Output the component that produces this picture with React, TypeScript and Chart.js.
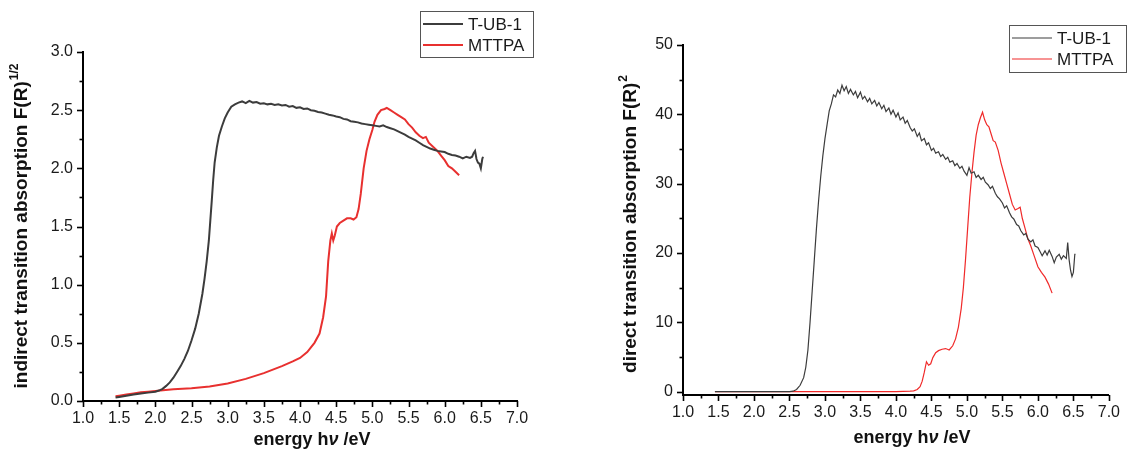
import React, { useEffect, useRef } from 'react';
import { Chart, registerables } from 'chart.js';

Chart.register(...registerables);

const FONT = "'Liberation Sans', Arial, Helvetica, sans-serif";

// ---------- tick labels ----------
const energyTicks = [1.0, 1.5, 2.0, 2.5, 3.0, 3.5, 4.0, 4.5, 5.0, 5.5, 6.0, 6.5, 7.0];
const indirectTicks = [0.0, 0.5, 1.0, 1.5, 2.0, 2.5, 3.0];
const directTicks = [0, 10, 20, 30, 40, 50];

const seriesNames = ['T-UB-1', 'MTTPA'];

// ---------- left panel: indirect transition, F(R)^1/2 ----------
const indirectTubE = [
  1.45, 1.5, 1.6, 1.7, 1.8, 1.9, 2.0, 2.05, 2.1, 2.15, 2.2, 2.25, 2.3, 2.35, 2.4, 2.45, 2.5, 2.55, 2.6, 2.65,
  2.68, 2.71, 2.74, 2.76, 2.78, 2.8, 2.82, 2.85, 2.88, 2.92, 2.96, 3.0, 3.05, 3.1, 3.15, 3.2, 3.25, 3.3, 3.35,
  3.4, 3.45, 3.5, 3.55, 3.6, 3.65, 3.7, 3.75, 3.8, 3.85, 3.9, 3.95, 4.0, 4.05, 4.1, 4.15, 4.2, 4.25, 4.3, 4.35,
  4.4, 4.45, 4.5, 4.55, 4.6, 4.65, 4.7, 4.75, 4.8, 4.85, 4.9, 4.95, 5.0, 5.05, 5.1, 5.15, 5.2, 5.25, 5.3, 5.35,
  5.4, 5.45, 5.5, 5.55, 5.6, 5.65, 5.7, 5.75, 5.8, 5.85, 5.9, 5.95, 6.0, 6.05, 6.1, 6.15, 6.2, 6.25, 6.3, 6.35,
  6.38, 6.4, 6.42, 6.44, 6.46, 6.48, 6.5, 6.52, 6.53,
];
const indirectTubV = [
  0.03, 0.035, 0.045, 0.055, 0.065, 0.072, 0.08, 0.09, 0.105, 0.13, 0.16, 0.2, 0.25, 0.3, 0.36, 0.43, 0.52, 0.62, 0.75, 0.92,
  1.05, 1.2, 1.38, 1.55, 1.72, 1.9, 2.05, 2.18, 2.28, 2.36, 2.43, 2.48, 2.53, 2.55, 2.565, 2.575, 2.56, 2.58, 2.565,
  2.57, 2.555, 2.56, 2.55, 2.555, 2.545, 2.55, 2.54, 2.545, 2.53, 2.535, 2.52, 2.525, 2.51, 2.515, 2.5, 2.495, 2.485, 2.48, 2.47,
  2.46, 2.455, 2.445, 2.44, 2.425, 2.42, 2.405, 2.4, 2.395, 2.385, 2.38, 2.375, 2.37, 2.365, 2.36, 2.37, 2.355, 2.345, 2.335, 2.32,
  2.305, 2.29, 2.27, 2.255, 2.24, 2.22, 2.2, 2.185, 2.17, 2.16, 2.15, 2.145, 2.14, 2.125, 2.115, 2.11, 2.1, 2.085, 2.1, 2.09,
  2.1, 2.13, 2.15, 2.08, 2.05, 2.04, 2.0, 2.08, 2.1,
];
const indirectMttpaE = [
  1.45, 1.5, 1.6, 1.7, 1.8, 1.9, 2.0, 2.25, 2.5, 2.75, 3.0, 3.25, 3.5, 3.75, 3.9, 4.0, 4.1, 4.2, 4.27, 4.32,
  4.36, 4.39, 4.42, 4.44, 4.46, 4.48, 4.51, 4.55, 4.6, 4.65, 4.7, 4.74, 4.78, 4.81, 4.84, 4.88, 4.92, 4.96, 5.0, 5.03,
  5.07, 5.12, 5.17, 5.2, 5.25, 5.3, 5.35, 5.4, 5.45, 5.5, 5.55, 5.6, 5.65, 5.7, 5.74, 5.78, 5.85, 5.9, 5.95, 6.0,
  6.05, 6.1, 6.15, 6.2,
];
const indirectMttpaV = [
  0.04, 0.045, 0.055, 0.065, 0.075, 0.08, 0.085, 0.1, 0.11, 0.125, 0.15, 0.19, 0.24, 0.3, 0.34, 0.37, 0.42, 0.5, 0.58, 0.72,
  0.9, 1.2, 1.38, 1.44, 1.38, 1.42, 1.5, 1.53, 1.55, 1.57, 1.57, 1.56, 1.58, 1.65, 1.78, 2.0, 2.15, 2.25, 2.33, 2.4,
  2.46, 2.5, 2.51, 2.52, 2.5, 2.48, 2.46, 2.44, 2.42, 2.38, 2.35, 2.31, 2.28, 2.26, 2.27, 2.22, 2.18, 2.15, 2.11, 2.07,
  2.02, 2.0, 1.97, 1.94,
];

// ---------- right panel: direct transition, F(R)^2 ----------
const directTubE = [
  1.45, 2.0, 2.5, 2.55, 2.6, 2.65, 2.7, 2.73, 2.76, 2.79, 2.82, 2.85, 2.88, 2.91, 2.94, 2.97, 3.0, 3.03, 3.06, 3.09,
  3.12, 3.15, 3.18, 3.21, 3.24, 3.27, 3.3, 3.33, 3.36, 3.4, 3.43, 3.46, 3.5, 3.53, 3.56, 3.6, 3.63, 3.66, 3.7, 3.73,
  3.76, 3.8, 3.83, 3.86, 3.9, 3.93, 3.96, 4.0, 4.03, 4.06, 4.1, 4.13, 4.16, 4.2, 4.23, 4.26, 4.3, 4.33, 4.36, 4.4,
  4.43, 4.46, 4.5, 4.53, 4.56, 4.6, 4.63, 4.66, 4.7, 4.73, 4.76, 4.8, 4.83, 4.86, 4.9, 4.93, 4.96, 5.0, 5.03, 5.06,
  5.1, 5.13, 5.16, 5.2, 5.23, 5.26, 5.3, 5.33, 5.36, 5.4, 5.43, 5.46, 5.5, 5.53, 5.56, 5.6, 5.63, 5.66, 5.7, 5.73,
  5.76, 5.8, 5.83, 5.86, 5.9, 5.93, 5.96, 6.0, 6.03, 6.06, 6.1, 6.13, 6.16, 6.2, 6.23, 6.26, 6.3, 6.33, 6.36, 6.4,
  6.42, 6.44, 6.46, 6.48, 6.5, 6.52, 6.53,
];
const directTubV = [
  0, 0, 0, 0.05, 0.3, 0.9, 2.0, 3.5, 6, 10, 14.5, 19, 23.5, 27.5, 31, 34, 36.5, 38.5, 40.5, 41.5,
  42.8, 42.5, 43.5, 43, 44.2, 43.4, 44, 43, 43.6, 42.8, 43.3, 42.4, 43.2, 42.2, 42.6, 41.8, 42.3, 41.5, 42, 41.2,
  41.7, 40.8, 41.3, 40.4, 40.9, 40, 40.6, 39.6, 40.2, 39.2, 39.6, 38.7, 39.1, 38.1, 37.6, 37.9, 36.8, 37.3, 36.2, 36.5,
  35.6, 35.9, 34.8, 35.1, 34.4, 34.6, 33.9, 34.2, 33.5, 33.8, 33.1, 33.3, 32.6, 32.9, 32.2, 32.5, 31.8, 31.2, 32.3, 31.5,
  31.7, 30.9, 31.2, 30.6, 30.9, 30.2, 29.8, 29.3, 29.6, 28.6, 28.1, 27.8, 27.2, 26.5, 26.8, 25.8, 25.2, 24.9, 24.1, 23.9,
  23.2, 22.6, 22.8, 22.0, 21.6, 21.9, 21.0, 20.8, 20.2, 19.6, 20.3, 19.7, 20.4, 19.5, 18.6, 19.4, 19.8, 19.1, 19.6, 19.2,
  21.5, 19, 17.5, 16.6, 17.2, 19.8, 19.8,
];
const directMttpaE = [
  1.45, 2.0, 3.0, 4.0, 4.2, 4.25, 4.3, 4.34, 4.37, 4.4, 4.43, 4.46, 4.49, 4.52, 4.56, 4.6, 4.65, 4.7, 4.75, 4.8,
  4.84, 4.88, 4.92, 4.95, 4.98, 5.01, 5.04, 5.07, 5.1, 5.13, 5.16, 5.19, 5.22, 5.25, 5.28, 5.31, 5.34, 5.37, 5.4, 5.44,
  5.48, 5.52, 5.56, 5.6, 5.64, 5.68, 5.72, 5.75, 5.78, 5.82, 5.86, 5.9, 5.95, 6.0, 6.05, 6.1, 6.15, 6.2,
];
const directMttpaV = [
  0, 0, 0, 0, 0.05, 0.1, 0.3, 0.7, 1.5, 2.8, 4.3, 3.8, 4.0, 4.9, 5.6, 5.9, 6.1, 6.2, 6.0, 6.6,
  7.6, 9.3, 12, 15, 19, 23.5, 28, 31.5, 34.5, 37, 38.5, 39.5, 40.3, 39.2, 38.5, 38.2, 37.2, 36.2, 36.0, 34.8,
  33.0, 31.5, 30, 28.5, 27, 26.2, 26.4, 26.6, 25, 23.5, 22, 21, 19.5, 18, 17.2, 16.5, 15.5, 14.2,
];

const toPoints = (xs: number[], ys: number[]) => xs.map((x, i) => ({ x, y: ys[i] }));

const axisDecor = {
  id: 'axisDecor',
  afterDraw(chart: any, _args: any, o: any) {
    const ctx = chart.ctx as CanvasRenderingContext2D;
    const xs = chart.scales.x;
    const ys = chart.scales.y;
    ctx.save();
    ctx.strokeStyle = '#000';
    ctx.lineWidth = 1.6;
    // x ticks (outward, below)
    const nx = Math.round((o.xEnd - o.xStart) / o.xMinor);
    for (let i = 0; i <= nx; i++) {
      const v = o.xStart + i * o.xMinor;
      const px = Math.round(xs.getPixelForValue(v)) + 0.5;
      const len = i % o.xRatio === 0 ? 6 : 3.5;
      ctx.beginPath();
      ctx.moveTo(px, xs.top);
      ctx.lineTo(px, xs.top + len);
      ctx.stroke();
    }
    const ny = Math.round((o.yEnd - o.yStart) / o.yMinor);
    for (let i = 0; i <= ny; i++) {
      const v = o.yStart + i * o.yMinor;
      const py = Math.round(ys.getPixelForValue(v)) + 0.5;
      const len = i % o.yRatio === 0 ? 6 : 3.5;
      ctx.beginPath();
      ctx.moveTo(ys.right, py);
      ctx.lineTo(ys.right - len, py);
      ctx.stroke();
    }
    // y title with superscript
    ctx.fillStyle = '#111';
    ctx.save();
    ctx.translate(o.yTitleX, o.yTitleY);
    ctx.rotate(-Math.PI / 2);
    ctx.textBaseline = 'middle';
    ctx.textAlign = 'left';
    const mainFont = `bold 19px ${FONT}`;
    const supFont = `bold 12px ${FONT}`;
    ctx.font = mainFont;
    const w1 = ctx.measureText(o.yTitle).width;
    ctx.font = supFont;
    const w2 = ctx.measureText(o.yTitleSup).width;
    const start = -(w1 + w2 + 1) / 2;
    ctx.font = mainFont;
    ctx.fillText(o.yTitle, start, 0);
    ctx.font = supFont;
    ctx.fillText(o.yTitleSup, start + w1 + 1, -7);
    ctx.restore();
    // x title
    ctx.textBaseline = 'middle';
    ctx.textAlign = 'left';
    const parts: [string, string][] = [
      ['energy h', `bold 18px ${FONT}`],
      ['\u03bd', `italic bold 18px ${FONT}`],
      [' /eV', `bold 18px ${FONT}`],
    ];
    let total = 0;
    parts.forEach(([t, f]) => { ctx.font = f; total += ctx.measureText(t).width; });
    let cx = o.xTitleX - total / 2;
    parts.forEach(([t, f]) => { ctx.font = f; ctx.fillText(t, cx, o.xTitleY); cx += ctx.measureText(t).width; });
    // legend box
    const L = o.legend;
    ctx.strokeStyle = '#555';
    ctx.lineWidth = 1;
    ctx.strokeRect(L.x + 0.5, L.y + 0.5, L.w, L.h);
    ctx.font = `${L.fontSize}px ${FONT}`;
    ctx.textBaseline = 'middle';
    chart.data.datasets.forEach((ds: any, i: number) => {
      const yy = L.y + L.rowStart + i * L.rowGap;
      ctx.strokeStyle = ds.borderColor;
      ctx.lineWidth = ds.borderWidth;
      ctx.beginPath();
      ctx.moveTo(L.x + 3, yy);
      ctx.lineTo(L.x + 3 + L.lineLen, yy);
      ctx.stroke();
      ctx.fillStyle = '#1a1a1a';
      ctx.fillText(ds.label, L.x + 3 + L.lineLen + 5, yy + 1);
    });
    ctx.restore();
  },
};

function buildConfig(p: any) {
  return {
    type: 'line',
    data: {
      datasets: [
        {
          label: seriesNames[0],
          data: toPoints(p.tubE, p.tubV),
          borderColor: p.grey,
          borderWidth: p.lw,
          pointRadius: 0,
          tension: 0,
        },
        {
          label: seriesNames[1],
          data: toPoints(p.mttpaE, p.mttpaV),
          borderColor: p.red,
          borderWidth: p.lw,
          pointRadius: 0,
          tension: 0,
        },
      ],
    },
    options: {
      animation: false,
      responsive: false,
      devicePixelRatio: 1,
      layout: { padding: { top: p.padTop, right: p.padRight, left: 0, bottom: 0 } },
      plugins: {
        legend: { display: false },
        tooltip: { enabled: false },
        axisDecor: p.decor,
      },
      scales: {
        x: {
          type: 'linear',
          min: 1,
          max: 7,
          afterBuildTicks: (s: any) => { s.ticks = energyTicks.map((v) => ({ value: v })); },
          afterFit: (s: any) => { s.height = p.xHeight; },
          ticks: {
            autoSkip: false,
            maxRotation: 0,
            padding: 8,
            color: '#1a1a1a',
            font: { family: FONT, size: 16 },
            callback: (v: number) => v.toFixed(1),
          },
          grid: { display: false, drawTicks: false },
          border: { display: true, color: '#000', width: 2 },
        },
        y: {
          type: 'linear',
          min: p.yMin,
          max: p.yMax,
          afterBuildTicks: (s: any) => { s.ticks = p.yTicks.map((v: number) => ({ value: v })); },
          afterFit: (s: any) => { s.width = p.yWidth; },
          ticks: {
            autoSkip: false,
            padding: 10,
            color: '#1a1a1a',
            font: { family: FONT, size: 16 },
            callback: p.yFmt,
          },
          grid: { display: false, drawTicks: false },
          border: { display: true, color: '#000', width: 2 },
        },
      },
    },
    plugins: [axisDecor],
  };
}

function Panel({ left, width, cfg }: { left: number; width: number; cfg: any }) {
  const ref = useRef<HTMLCanvasElement | null>(null);
  useEffect(() => {
    if (!ref.current) return;
    const chart = new Chart(ref.current, cfg);
    return () => chart.destroy();
  }, [cfg]);
  return (
    <canvas
      ref={ref}
      width={width}
      height={453}
      style={{ position: 'absolute', left, top: 0, width, height: 453 }}
    />
  );
}

const leftCfg = buildConfig({
  tubE: indirectTubE,
  tubV: indirectTubV,
  mttpaE: indirectMttpaE,
  mttpaV: indirectMttpaV,
  grey: '#3c3c3c',
  red: '#e8302f',
  lw: 2,
  padTop: 52,
  padRight: 43,
  xHeight: 52,
  yWidth: 83,
  yMin: 0,
  yMax: 3,
  yTicks: indirectTicks,
  yFmt: (v: number) => v.toFixed(1),
  decor: {
    xStart: 1, xEnd: 7, xMinor: 0.25, xRatio: 2,
    yStart: 0, yEnd: 3, yMinor: 0.25, yRatio: 2,
    yTitle: 'indirect transition absorption F(R)',
    yTitleSup: '1/2',
    yTitleX: 22,
    yTitleY: 226,
    xTitleX: 312,
    xTitleY: 440,
    legend: { x: 420, y: 11, w: 113, h: 46, rowStart: 13, rowGap: 21, lineLen: 40, fontSize: 17 },
  },
});

const rightCfg = buildConfig({
  tubE: directTubE,
  tubV: directTubV,
  mttpaE: directMttpaE,
  mttpaV: directMttpaV,
  grey: '#3c3c3c',
  red: '#f02a2a',
  lw: 1.2,
  padTop: 45,
  padRight: 11,
  xHeight: 58,
  yWidth: 123,
  yMin: -0.5,
  yMax: 50,
  yTicks: directTicks,
  yFmt: (v: number) => String(v),
  decor: {
    xStart: 1, xEnd: 7, xMinor: 0.25, xRatio: 2,
    yStart: 0, yEnd: 50, yMinor: 5, yRatio: 2,
    yTitle: 'direct transition absorption F(R)',
    yTitleSup: '2',
    yTitleX: 71,
    yTitleY: 224,
    xTitleX: 352,
    xTitleY: 438,
    legend: { x: 449, y: 25, w: 117, h: 47, rowStart: 13, rowGap: 21, lineLen: 40, fontSize: 17 },
  },
});

export default function App() {
  return (
    <div style={{ position: 'absolute', left: 0, top: 0, width: 1128, height: 453, background: '#fff' }}>
      <Panel left={0} width={560} cfg={leftCfg} />
      <Panel left={560} width={568} cfg={rightCfg} />
    </div>
  );
}
